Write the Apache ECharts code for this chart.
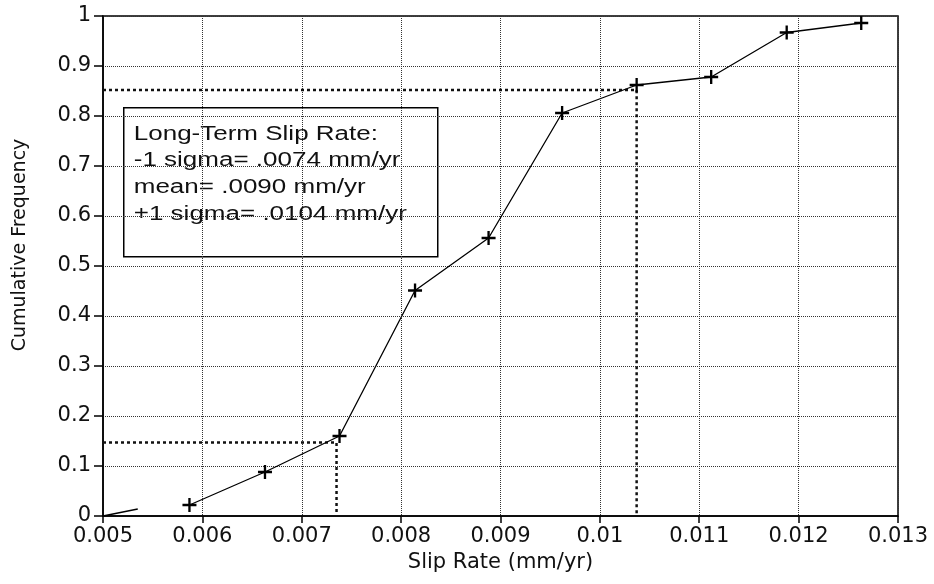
<!DOCTYPE html>
<html>
<head>
<meta charset="utf-8">
<script src="https://cdn.jsdelivr.net/npm/echarts@6/dist/echarts.min.js"></script>
<style>
  html, body { margin: 0; padding: 0; background: #fff; }
  #chart { width: 934px; height: 584px; }
</style>
</head>
<body>
<div id="chart"></div>
<script>
// cumulative frequency curve
var slipRate = [0.00587, 0.00663, 0.00738, 0.00814, 0.00888, 0.00962, 0.01037, 0.01112, 0.01188, 0.01263];
var cumFreq = [0.022, 0.088, 0.16, 0.451, 0.556, 0.806, 0.862, 0.878, 0.967, 0.986];

// short stub at the origin
var stubX = [0.005, 0.00535];
var stubY = [0, 0.014];

// sigma guide lines
var lowSigma = 0.00735, lowFreq = 0.147;
var highSigma = 0.01037, highFreq = 0.852;

var boxLines = [
  'Long-Term Slip Rate:',
  '-1 sigma= .0074 mm/yr',
  'mean= .0090 mm/yr',
  '+1 sigma= .0104 mm/yr'
];

function pairs(xs, ys) {
  return xs.map(function (x, i) { return [x, ys[i]]; });
}

var font = "'DejaVu Sans', 'Liberation Sans', sans-serif";
var boxFont = "'Liberation Sans', Arial, sans-serif";
var plus = 'path://M5,0h2v5h5v2h-5v5h-2v-5h-5v-2h5z';

var guideStyle = { color: '#111', width: 2.5, type: [3, 3] };
var gridStyle = { color: '#333', width: 1, type: 'dotted' };

var myChart = echarts.init(document.getElementById('chart'));
var option = {
  backgroundColor: '#fff',
  animation: false,
  grid: {
    left: 103, right: 36, top: 16, bottom: 68,
    show: true, borderColor: '#000', borderWidth: 1.5
  },
  xAxis: {
    type: 'value',
    min: 0.005, max: 0.013, interval: 0.001,
    name: 'Slip Rate (mm/yr)',
    nameLocation: 'middle',
    nameGap: 36,
    nameTextStyle: { fontFamily: font, fontSize: 21, color: '#111' },
    axisLine: { lineStyle: { color: '#000', width: 1.5 } },
    axisTick: { length: 7, lineStyle: { color: '#000', width: 1.5 } },
    axisLabel: {
      margin: 10, fontFamily: font, fontSize: 21, color: '#111',
      formatter: function (v) { return String(parseFloat(v.toFixed(3))); }
    },
    splitLine: { show: true, lineStyle: gridStyle }
  },
  yAxis: {
    type: 'value',
    min: 0, max: 1, interval: 0.1,
    name: 'Cumulative Frequency',
    nameLocation: 'middle',
    nameGap: 73,
    nameTextStyle: { fontFamily: font, fontSize: 19, color: '#111', padding: [0, 0, 0, 42] },
    axisLine: { lineStyle: { color: '#000', width: 1.5 } },
    axisTick: { length: 9, lineStyle: { color: '#000', width: 1.5 } },
    axisLabel: {
      margin: 12, fontFamily: font, fontSize: 21, color: '#111',
      formatter: function (v) { return String(Math.round(v * 10) / 10); }
    },
    splitLine: { show: true, lineStyle: gridStyle }
  },
  series: [
    {
      // -1 sigma guides
      type: 'line',
      data: [[0.005, lowFreq], [lowSigma, lowFreq], [lowSigma, 0]],
      symbol: 'none',
      lineStyle: guideStyle,
      silent: true
    },
    {
      // +1 sigma guides
      type: 'line',
      data: [[0.005, highFreq], [highSigma, highFreq], [highSigma, 0]],
      symbol: 'none',
      lineStyle: guideStyle,
      silent: true
    },
    {
      type: 'line',
      data: pairs(stubX, stubY),
      symbol: 'none',
      lineStyle: { color: '#000', width: 1.3 }
    },
    {
      name: 'Cumulative Frequency',
      type: 'line',
      data: pairs(slipRate, cumFreq),
      symbol: plus,
      symbolSize: 14,
      showAllSymbol: true,
      itemStyle: { color: '#000', borderWidth: 0 },
      lineStyle: { color: '#000', width: 1.3 },
      z: 5
    }
  ],
  graphic: [
    {
      type: 'group',
      left: 123, top: 107,
      z: 10,
      children: [
        {
          type: 'rect',
          shape: { x: 0, y: 0, width: 314, height: 149 },
          style: { fill: '#fff', stroke: '#000', lineWidth: 1.5 }
        },
        {
          type: 'text',
          x: 10, y: 13,
          scaleX: 1.3,
          style: {
            text: boxLines.join('\n'),
            font: '20px ' + boxFont,
            lineHeight: 26.7,
            verticalAlign: 'top',
            fill: '#111'
          }
        }
      ]
    }
  ]
};
myChart.setOption(option);
</script>
</body>
</html>
